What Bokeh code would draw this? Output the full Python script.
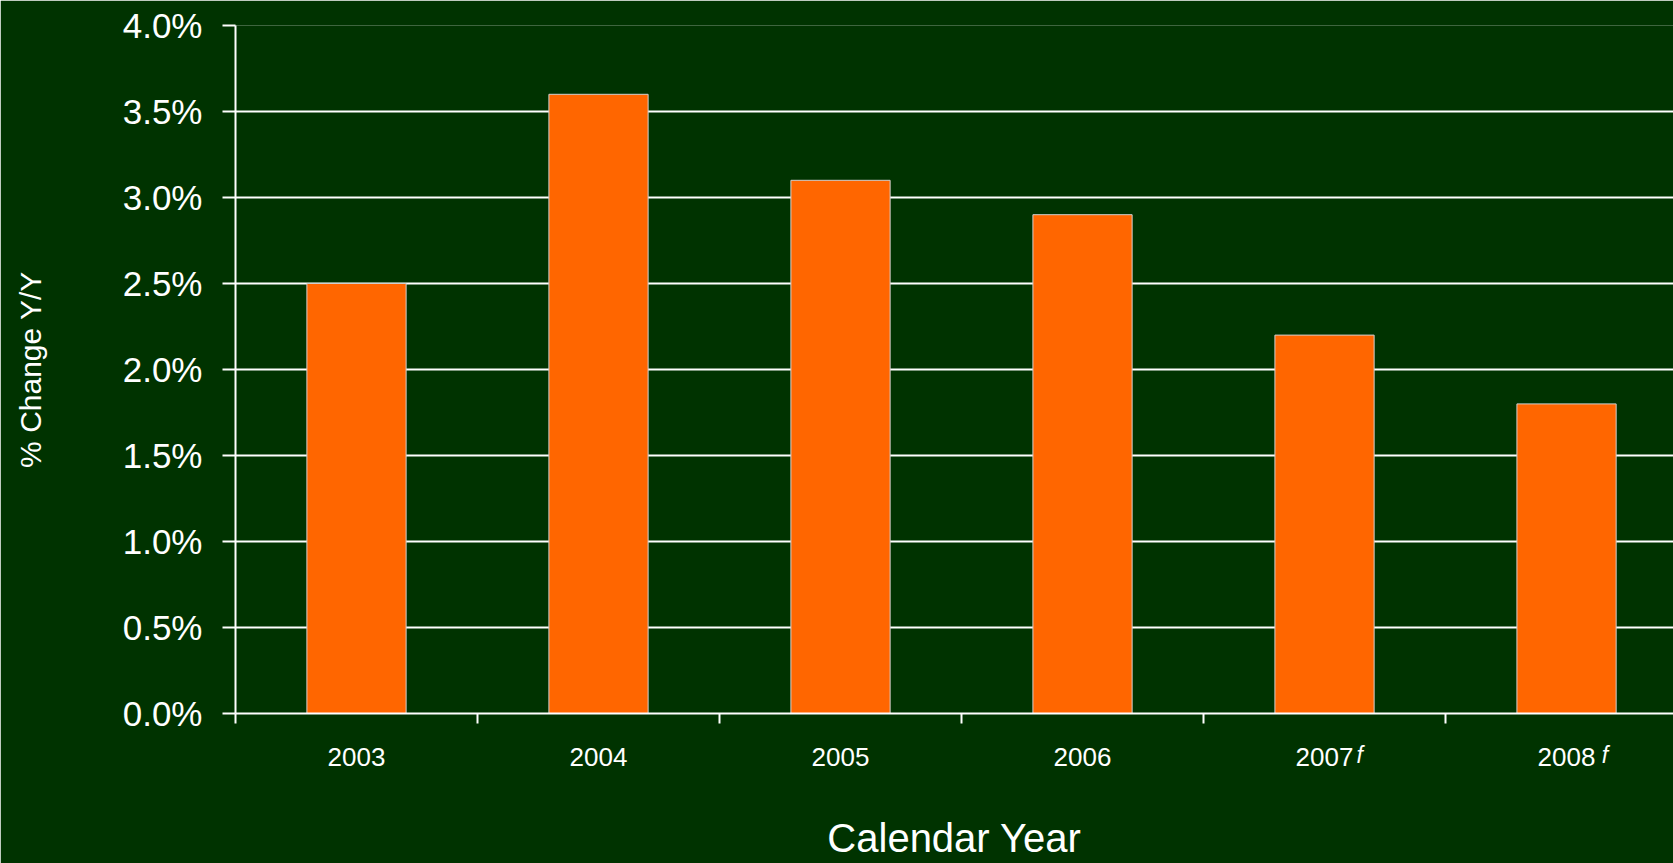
from bokeh.plotting import figure
from bokeh.models import Range1d, FixedTicker, ColumnDataSource, LinearAxis
from bokeh.embed import file_html
from bokeh.resources import INLINE

years = ["2003", "2004", "2005", "2006", "2007", "2008"]
forecast = [False, False, False, False, True, True]
pct_change = [2.5, 3.6, 3.1, 2.9, 2.2, 1.8]
y_ticks = [0.0, 0.5, 1.0, 1.5, 2.0, 2.5, 3.0, 3.5, 4.0]

BG = "#003300"
FONT = "Liberation Sans"

centers = [i + 0.5 for i in range(len(years))]
src = ColumnDataSource(dict(x=centers, top=pct_change, year=years))

p = figure(width=1673, height=863, output_backend="svg", toolbar_location=None,
           x_range=Range1d(0, 5.942), y_range=Range1d(0, 4.0),
           min_border_left=235, min_border_right=0, min_border_top=25, min_border_bottom=150)
p.background_fill_color = BG
p.border_fill_color = BG
p.outline_line_color = None

p.vbar(x="x", top="top", bottom=0, width=0.41, source=src,
       fill_color="#FF6600", line_color="#d0d0d0", line_width=1)

# y axis
ya = p.yaxis[0]
ya.ticker = FixedTicker(ticks=y_ticks)
ya.major_label_overrides = {t: f"{t:.1f}%" for t in y_ticks}
ya.major_label_text_font = FONT
ya.major_label_text_font_size = "35px"
ya.major_label_text_color = "white"
ya.major_tick_out = 13
ya.major_tick_in = 0
ya.major_tick_line_color = "white"
ya.major_tick_line_width = 2
ya.minor_tick_line_color = None
ya.axis_line_color = "white"
ya.axis_line_width = 2
ya.major_label_standoff = 20
ya.axis_label = "% Change Y/Y"
ya.axis_label_text_font = FONT
ya.axis_label_text_font_size = "30px"
ya.axis_label_text_font_style = "normal"
ya.axis_label_text_color = "white"
ya.axis_label_standoff = 73

# x axis: labels at centers, separator ticks at boundaries (minor ticks)
xa = p.xaxis[0]
xa.ticker = FixedTicker(ticks=centers, minor_ticks=list(range(len(years) + 1)))
xa.major_label_overrides = {c: y for c, y in zip(centers, years)}
xa.major_label_text_font = FONT
xa.major_label_text_font_size = "26px"
xa.major_label_text_color = "white"
xa.major_tick_out = 0
xa.major_tick_in = 0
xa.major_tick_line_color = None
xa.minor_tick_out = 10
xa.minor_tick_in = 0
xa.minor_tick_line_color = "white"
xa.minor_tick_line_width = 2
xa.axis_line_color = "white"
xa.axis_line_width = 2
xa.major_label_standoff = 24

# second axis carrying the superscript "f" of forecast years and the axis title
f_pos = [4.645, 5.659]
f_ticks = [pos for pos, fc in zip(f_pos, [fc for fc in forecast if fc])]
xa2 = LinearAxis(ticker=FixedTicker(ticks=f_ticks, minor_ticks=[]),
                 major_label_overrides={t: "f" for t in f_ticks})
xa2.major_label_text_font = FONT
xa2.major_label_text_font_style = "italic"
xa2.major_label_text_font_size = "23px"
xa2.major_label_text_color = "white"
xa2.major_tick_out = 0
xa2.major_tick_in = 0
xa2.major_tick_line_color = None
xa2.minor_tick_line_color = None
xa2.axis_line_color = None
xa2.major_label_standoff = -27
xa2.axis_label = "Calendar Year"
xa2.axis_label_text_font = FONT
xa2.axis_label_text_font_size = "40px"
xa2.axis_label_text_font_style = "normal"
xa2.axis_label_text_color = "white"
xa2.axis_label_standoff = 45
p.add_layout(xa2, "below")

p.xgrid.grid_line_color = None
p.ygrid.ticker = FixedTicker(ticks=y_ticks)
p.ygrid.grid_line_color = "white"
p.ygrid.grid_line_width = 2

open("out.html", "w").write(file_html(p, INLINE))
